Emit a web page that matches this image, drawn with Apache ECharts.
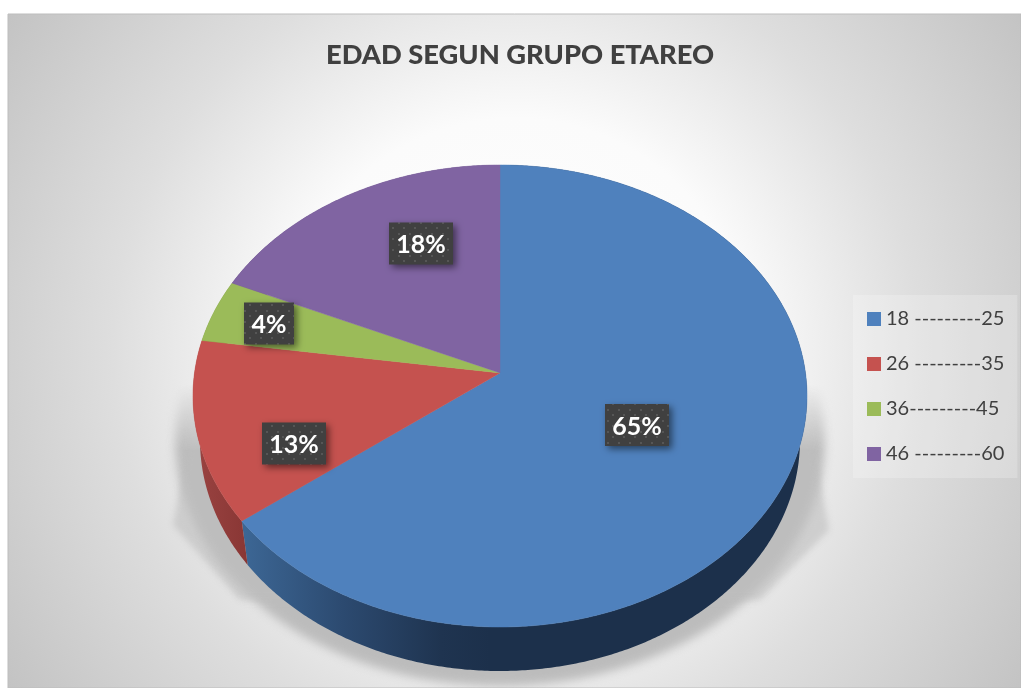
<!DOCTYPE html>
<html><head><meta charset="utf-8">
<style>html,body{margin:0;padding:0;background:#fff}#c{width:1021px;height:688px}</style>
<script src="https://cdn.jsdelivr.net/npm/echarts@6/dist/echarts.min.js"></script>
</head><body><div id="c"></div>
<script>
const titleText = 'EDAD SEGUN GRUPO ETAREO';
const categories = ['18 ---------25', '26 ---------35', '36---------45', '46 ---------60'];
const values = [64.6, 12.7, 4.4, 18.3];
const colors = ['#4f81bd', '#c5524f', '#9bbb59', '#8064a2'];
const labelCenters = [[637, 425], [294, 443.5], [269, 323.5], [421, 243.5]];
const labelWidths = [64, 64, 50, 64];

const face = {cx: 500, cy: 396, rx: 307, ry: 231};
const base = {cx: 500, cy: 440, rx: 300, ry: 231};
const persp = 0.1;
const total = values.reduce((a, b) => a + b, 0);
const fontName = 'Lato, Carlito, "Open Sans", sans-serif';

function rim(ell, frac) {
  const t = frac * 2 * Math.PI, u = Math.sin(t), v = Math.cos(t);
  const d = 1 + persp * v;
  const u2 = u * Math.sqrt(1 - persp * persp) / d, v2 = (v + persp) / d;
  return [ell.cx + ell.rx * u2, ell.cy - ell.ry * v2];
}
function arc(ell, a, b) {
  const n = Math.max(2, Math.ceil((b - a) * 720)), out = [];
  for (let i = 0; i <= n; i++) out.push(rim(ell, a + (b - a) * i / n));
  return out;
}
const wallFills = [
  {type: 'linear', global: true, x: 245, y: 0, x2: 490, y2: 0,
   colorStops: [{offset: 0, color: '#3c6694'}, {offset: .4, color: '#2c4a70'}, {offset: .8, color: '#1f3450'}, {offset: 1, color: '#1c304b'}]},
  {type: 'linear', global: true, x: 195, y: 0, x2: 250, y2: 0,
   colorStops: [{offset: 0, color: '#9a4341'}, {offset: 1, color: '#883634'}]},
  '#6e8a3c', '#5a4575'
];

function dotted() {
  const c = document.createElement('canvas'); c.width = 11; c.height = 11;
  const g = c.getContext('2d');
  g.fillStyle = '#404040'; g.fillRect(0, 0, 11, 11);
  g.fillStyle = '#565656';
  g.fillRect(2, 2, 2, 2); g.fillRect(7, 7, 2, 2);
  return c;
}
const dotFill = {image: dotted(), repeat: 'repeat'};

function shadowLayer() {
  const c = document.createElement('canvas'); c.width = 1021; c.height = 688;
  const g = c.getContext('2d');
  g.filter = 'blur(5px)';
  g.fillStyle = '#bcbcbc';
  g.beginPath(); g.ellipse(500, 440, 325, 246, 0, 0, Math.PI * 2); g.fill();
  g.filter = 'blur(3px)';
  g.fillStyle = 'rgba(190,190,190,.6)';
  g.beginPath(); g.moveTo(198, 395); g.lineTo(173, 525); g.lineTo(240, 600); g.lineTo(760, 600);
  g.lineTo(829, 530); g.lineTo(805, 395); g.closePath(); g.fill();
  g.filter = 'none';
  g.globalCompositeOperation = 'destination-in';
  const m = g.createLinearGradient(0, 385, 0, 450);
  m.addColorStop(0, 'rgba(0,0,0,0)'); m.addColorStop(1, 'rgba(0,0,0,1)');
  g.fillStyle = m; g.fillRect(0, 0, 1021, 688);
  return c;
}

let running = 0;
const spans = values.map(v => { const a = running / total; running += v; return [a, running / total]; });

const series = categories.map((name, i) => ({
  type: 'custom', name, coordinateSystem: 'none', silent: true,
  itemStyle: {color: colors[i]},
  data: [{name, value: [values[i]]}],
  renderItem: function (params, api) {
    const pct = api.value(0);
    const [a, b] = spans[i];
    const top = arc(face, a, b);
    const apex = [face.cx, face.cy - face.ry * persp];
    const lc = labelCenters[i], w = labelWidths[i], h = 42;
    return {type: 'group', children: [
      {type: 'polygon', z2: 1, shape: {points: top.concat(arc(base, a, b).reverse())}, style: {fill: wallFills[i]}},
      {type: 'polygon', z2: 10, shape: {points: [apex].concat(top)}, style: {fill: colors[i], stroke: colors[i], lineWidth: .5}},
      {type: 'rect', z2: 20, shape: {x: lc[0] - w / 2, y: lc[1] - h / 2, width: w, height: h},
       style: {fill: dotFill, shadowBlur: 7, shadowOffsetX: 3, shadowOffsetY: 3, shadowColor: 'rgba(0,0,0,.5)'}},
      {type: 'text', z2: 21, style: {text: Math.round(pct / total * 100) + '%', x: lc[0], y: lc[1] + 1.5,
        align: 'center', verticalAlign: 'middle', fill: '#fff', font: 'bold 25px ' + fontName}}
    ]};
  }
}));

const chart = echarts.init(document.getElementById('c'), null, {renderer: 'canvas'});
chart.setOption({
  animation: false,
  title: {text: titleText, left: 321, top: 37, textStyle: {color: '#404040', fontFamily: fontName, fontSize: 27.3, fontWeight: 900}},
  legend: {
    data: categories, orient: 'vertical', left: 853, top: 295, icon: 'rect',
    itemWidth: 14, itemHeight: 14, itemGap: 23, selectedMode: false,
    padding: [13, 13, 13, 14], backgroundColor: 'rgba(255,255,255,.22)',
    textStyle: {color: '#404040', fontFamily: fontName, fontSize: 20, lineHeight: 22}
  },
  graphic: {elements: [
    {type: 'rect', z: -20, silent: true, shape: {x: 8, y: 14, width: 1013, height: 674},
     style: {stroke: '#bdbdbd', lineWidth: 1, fill: {type: 'radial', global: true, x: 515, y: 350, r: 610,
       colorStops: [{offset: 0, color: '#ffffff'}, {offset: .38, color: '#fbfbfb'}, {offset: .66, color: '#dedede'}, {offset: 1, color: '#c3c3c3'}]}}},
    {type: 'image', z: -10, silent: true, style: {image: shadowLayer(), x: 0, y: 0, width: 1021, height: 688}}
  ]},
  series
});
</script></body></html>
